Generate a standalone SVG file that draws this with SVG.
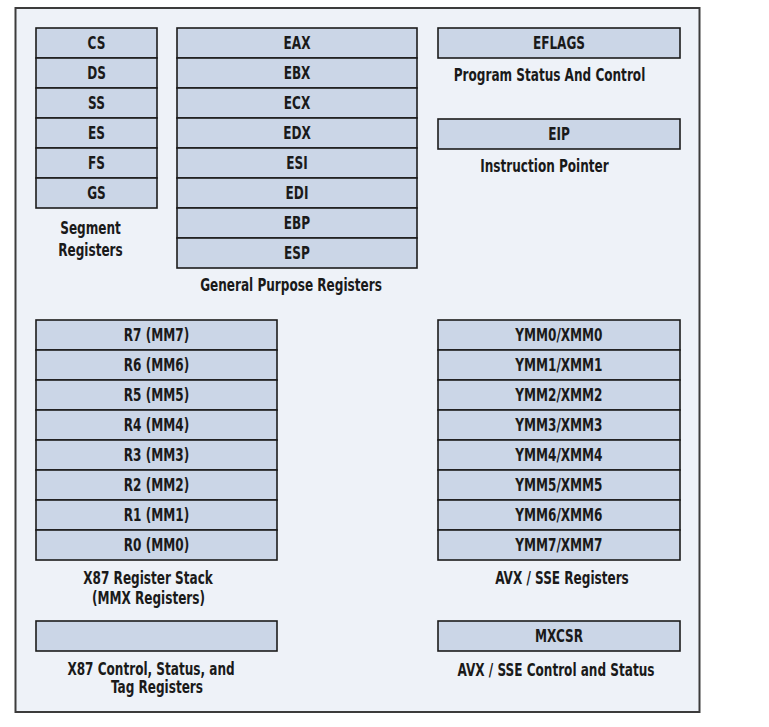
<svg xmlns="http://www.w3.org/2000/svg" width="769" height="727" viewBox="0 0 769 727">
<style>
.frame{fill:#eef2f8;stroke:#3c3c3c;stroke-width:2}
.reg{fill:#cbd6e7;stroke:#1c1c1c;stroke-width:1.6}
text{font-family:"DejaVu Sans Condensed","Liberation Sans",sans-serif;font-size:17px;fill:#1a1a1a;text-anchor:middle;font-weight:bold;transform-box:fill-box;transform-origin:center;transform:scaleX(0.79)}
</style>
<rect width="769" height="727" fill="#ffffff"/>
<rect class="frame" x="15.5" y="8" width="684" height="704"/>
<g id="segment-registers">
<rect class="reg" x="36" y="28" width="121" height="30"/><text x="96.5" y="49">CS</text>
<rect class="reg" x="36" y="58" width="121" height="30"/><text x="96.5" y="79">DS</text>
<rect class="reg" x="36" y="88" width="121" height="30"/><text x="96.5" y="109">SS</text>
<rect class="reg" x="36" y="118" width="121" height="30"/><text x="96.5" y="139">ES</text>
<rect class="reg" x="36" y="148" width="121" height="30"/><text x="96.5" y="169">FS</text>
<rect class="reg" x="36" y="178" width="121" height="30"/><text x="96.5" y="199">GS</text>
<text x="90.5" y="234">Segment</text>
<text x="90.5" y="256">Registers</text>
</g>
<g id="general-purpose-registers">
<rect class="reg" x="177" y="28" width="240" height="30"/><text x="297" y="49">EAX</text>
<rect class="reg" x="177" y="58" width="240" height="30"/><text x="297" y="79">EBX</text>
<rect class="reg" x="177" y="88" width="240" height="30"/><text x="297" y="109">ECX</text>
<rect class="reg" x="177" y="118" width="240" height="30"/><text x="297" y="139">EDX</text>
<rect class="reg" x="177" y="148" width="240" height="30"/><text x="297" y="169">ESI</text>
<rect class="reg" x="177" y="178" width="240" height="30"/><text x="297" y="199">EDI</text>
<rect class="reg" x="177" y="208" width="240" height="30"/><text x="297" y="229">EBP</text>
<rect class="reg" x="177" y="238" width="240" height="30"/><text x="297" y="259">ESP</text>
<text x="291" y="291">General Purpose Registers</text>
</g>
<g id="eflags">
<rect class="reg" x="438" y="28" width="242" height="30"/><text x="559" y="49">EFLAGS</text>
<text x="549.5" y="81">Program Status And Control</text>
</g>
<g id="eip">
<rect class="reg" x="438" y="119" width="242" height="30"/><text x="559" y="140">EIP</text>
<text x="544.5" y="172">Instruction Pointer</text>
</g>
<g id="x87-register-stack">
<rect class="reg" x="36" y="320" width="241" height="30"/><text x="156.5" y="341">R7 (MM7)</text>
<rect class="reg" x="36" y="350" width="241" height="30"/><text x="156.5" y="371">R6 (MM6)</text>
<rect class="reg" x="36" y="380" width="241" height="30"/><text x="156.5" y="401">R5 (MM5)</text>
<rect class="reg" x="36" y="410" width="241" height="30"/><text x="156.5" y="431">R4 (MM4)</text>
<rect class="reg" x="36" y="440" width="241" height="30"/><text x="156.5" y="461">R3 (MM3)</text>
<rect class="reg" x="36" y="470" width="241" height="30"/><text x="156.5" y="491">R2 (MM2)</text>
<rect class="reg" x="36" y="500" width="241" height="30"/><text x="156.5" y="521">R1 (MM1)</text>
<rect class="reg" x="36" y="530" width="241" height="30"/><text x="156.5" y="551">R0 (MM0)</text>
<text x="148" y="584">X87 Register Stack</text>
<text x="148.5" y="604">(MMX Registers)</text>
</g>
<g id="avx-sse-registers">
<rect class="reg" x="438" y="320" width="242" height="30"/><text x="559" y="341">YMM0/XMM0</text>
<rect class="reg" x="438" y="350" width="242" height="30"/><text x="559" y="371">YMM1/XMM1</text>
<rect class="reg" x="438" y="380" width="242" height="30"/><text x="559" y="401">YMM2/XMM2</text>
<rect class="reg" x="438" y="410" width="242" height="30"/><text x="559" y="431">YMM3/XMM3</text>
<rect class="reg" x="438" y="440" width="242" height="30"/><text x="559" y="461">YMM4/XMM4</text>
<rect class="reg" x="438" y="470" width="242" height="30"/><text x="559" y="491">YMM5/XMM5</text>
<rect class="reg" x="438" y="500" width="242" height="30"/><text x="559" y="521">YMM6/XMM6</text>
<rect class="reg" x="438" y="530" width="242" height="30"/><text x="559" y="551">YMM7/XMM7</text>
<text x="562" y="584">AVX / SSE Registers</text>
</g>
<g id="x87-control">
<rect class="reg" x="36" y="621" width="241" height="30"/>
<text x="151" y="675">X87 Control, Status, and</text>
<text x="157" y="693">Tag Registers</text>
</g>
<g id="mxcsr">
<rect class="reg" x="438" y="621" width="242" height="30"/><text x="559" y="642">MXCSR</text>
<text x="556" y="676">AVX / SSE Control and Status</text>
</g>
<g id="connectors"></g>
</svg>
